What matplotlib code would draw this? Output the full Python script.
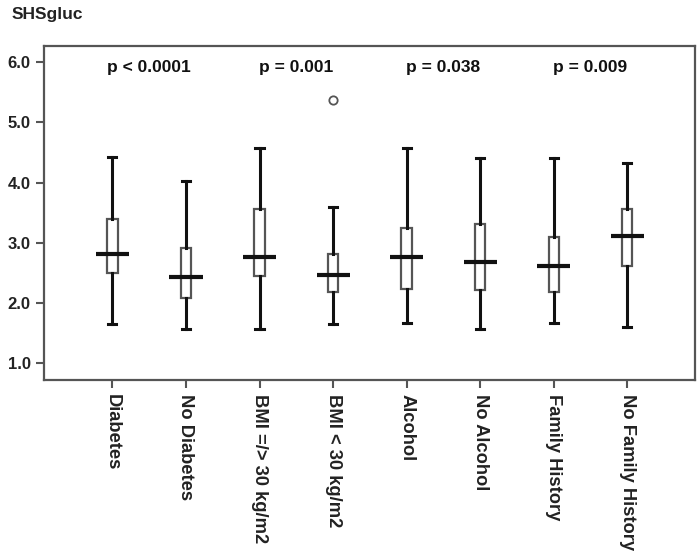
import matplotlib
matplotlib.use("Agg")
import matplotlib.pyplot as plt

plt.rcParams['font.family'] = ['Liberation Sans', 'DejaVu Sans']

categories = ["Diabetes", "No Diabetes", "BMI =/> 30 kg/m2", "BMI < 30 kg/m2",
              "Alcohol", "No Alcohol", "Family History", "No Family History"]
whisker_low = [1.65, 1.57, 1.57, 1.65, 1.67, 1.56, 1.67, 1.60]
q1 = [2.49, 2.09, 2.44, 2.18, 2.24, 2.22, 2.18, 2.62]
medians = [2.82, 2.43, 2.77, 2.47, 2.76, 2.68, 2.62, 3.12]
q3 = [3.40, 2.92, 3.56, 2.81, 3.25, 3.32, 3.09, 3.56]
whisker_high = [4.42, 4.02, 4.58, 3.60, 4.58, 4.41, 4.41, 4.32]
outliers = [[], [], [], [5.38], [], [], [], []]
p_labels = ["p < 0.0001", "p = 0.001", "p = 0.038", "p = 0.009"]
y_ticks = [1.0, 2.0, 3.0, 4.0, 5.0, 6.0]

fig = plt.figure(figsize=(7, 5.55), dpi=100)
ax = fig.add_axes([44/700, 1-380/555, (695-44)/700, (380-46)/555])

positions = list(range(len(categories)))
stats = []
for i in positions:
    stats.append(dict(med=medians[i], q1=q1[i], q3=q3[i], whislo=whisker_low[i],
                      whishi=whisker_high[i], fliers=outliers[i], label=categories[i]))

ax.bxp(stats, positions=positions, widths=0.14, showfliers=True, patch_artist=True,
       boxprops=dict(facecolor='white', edgecolor='#555555', linewidth=1.6),
       whiskerprops=dict(color='#111111', linewidth=2.2),
       capprops=dict(color='#111111', linewidth=2.2),
       medianprops=dict(visible=False),
       flierprops=dict(marker='o', markersize=6, markerfacecolor='white',
                       markeredgecolor='#555555', markeredgewidth=1.3),
       capwidths=0.11, manage_ticks=False)

for i in positions:
    ax.hlines(medians[i], i - 0.225, i + 0.225, color='#111111', linewidth=3, zorder=4)

for k, lab in enumerate(p_labels):
    ax.text(2*k + 0.5, 5.92, lab, ha='center', va='center', fontsize=12.5,
            fontweight='bold', color='#111111')

ax.set_xlim(-0.93, 7.92)
ax.set_ylim(0.72, 6.27)
ax.set_yticks(y_ticks)
ax.set_yticklabels([f"{v:.1f}" for v in y_ticks], fontsize=12, fontweight='bold',
                   color='#222222')
ax.set_xticks(positions)
ax.set_xticklabels(categories, rotation=-90, fontsize=13.2, fontweight='bold',
                   color='#222222', va='top', ha='center')
ax.tick_params(axis='both', direction='out', length=6, width=1.5, color='#555555')
ax.tick_params(axis='x', pad=4)
for s in ax.spines.values():
    s.set_color('#555555')
    s.set_linewidth(1.6)

fig.text(12/700, 1-15/555, "SHSgluc", fontsize=12.5, fontweight='bold',
         color='#222222', ha='left', va='center')

fig.savefig("out.png", dpi=100)
